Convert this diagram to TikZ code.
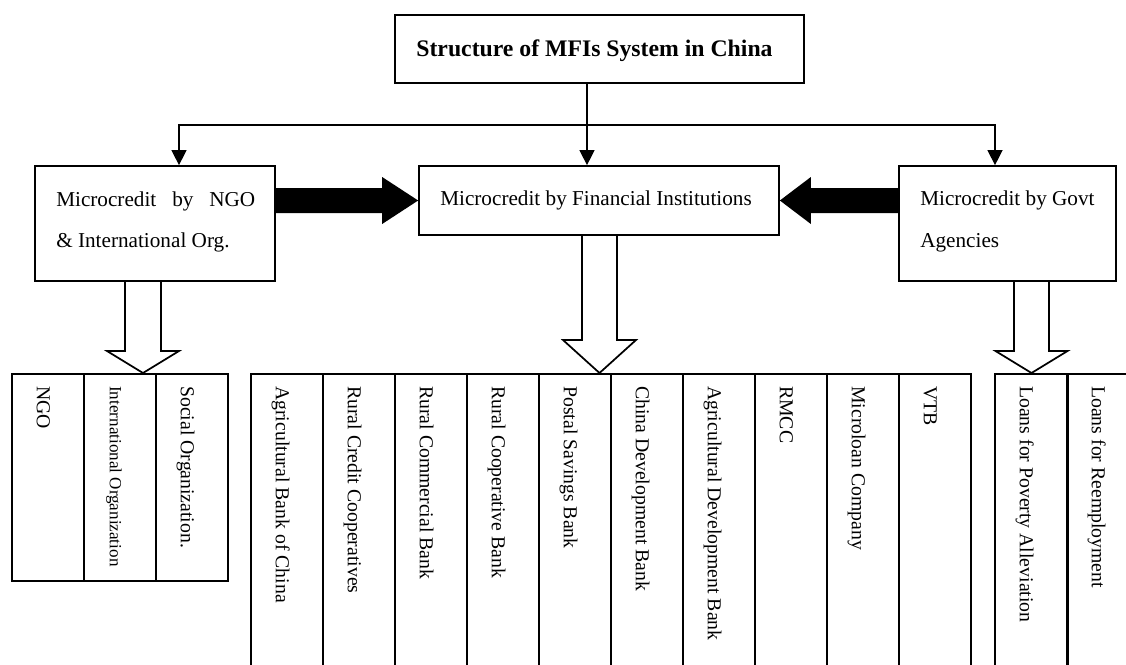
\documentclass[tikz,border=0pt]{standalone}
\usepackage{fontspec}
\setmainfont{Liberation Serif}
\usetikzlibrary{arrows.meta,calc}
\newlength\pxu
\setlength\pxu{0.75pt}
\begin{document}
\begin{tikzpicture}[x=0.75pt,y=-0.75pt,
  box/.style={draw, line width=1.3pt, rectangle, inner sep=0pt},
  conn/.style={line width=1pt},
  tiparrow/.style={-{Triangle[width=11.25pt,length=11.25pt]}},
  boxtext/.style={font=\fontsize{15.9}{19}\selectfont, inner sep=0pt, anchor=base west},
  coltext/.style={font=\fontsize{14.8}{18}\selectfont, inner sep=0pt, rotate=-90, anchor=west, text height=0.7em, text depth=0.22em},
  col/.style={box, minimum width=72\pxu},
  hollow/.style={line width=1.3pt, line join=miter},
]
\useasboundingbox (0,0) rectangle (1126,664);
\clip (0,0) rectangle (1126,664);

% title
\node[box, minimum width=409\pxu, minimum height=68\pxu] (title) at (599.5,49) {};
\node[font=\fontsize{17.8}{21}\selectfont\bfseries, inner sep=0pt, anchor=base] (titletext) at (594.5,56) {Structure of MFIs System in China};

% second level boxes
\node[box, minimum width=360\pxu, minimum height=69\pxu] (mid) at (599,200.5) {};
\node[boxtext, anchor=base] (midtext) at (596,205) {Microcredit by Financial Institutions};

\node[box, minimum width=240\pxu, minimum height=115\pxu] (ngo) at (155,223.5) {};
\node[boxtext] (ngot1) at (56,206) {\makebox[199\pxu][l]{Microcredit\hfill by\hfill NGO}};
\node[boxtext] (ngot2) at (56,247) {\& International Org.};

\node[box, minimum width=217\pxu, minimum height=115\pxu] (govt) at (1007.5,223.5) {};
\node[boxtext] (govtt1) at (920,205) {Microcredit by Govt};
\node[boxtext] (govtt2) at (920,247) {Agencies};

% tree connectors
\coordinate (jt) at (587,125);
\draw[conn] (title.south -| jt) -- (jt);
\draw[conn, tiparrow] (jt) -- (jt |- mid.north);
\draw[conn, tiparrow] (jt) -| ([xshift=24\pxu]ngo.north);
\draw[conn, tiparrow] (jt) -| ([xshift=-12.5\pxu]govt.north);

% black block arrows
\fill (mid.west) -- ++(-36,-23.5) -- ++(0,11) -- ($(ngo.east |- mid.west)+(0,-12.5)$) -- ++(0,25) -- ($(mid.west)+(-36,12.5)$) -- ++(0,11) -- cycle;
\fill (mid.east) -- ++(31,-23.5) -- ++(0,11) -- ($(govt.west |- mid.east)+(0,-12.5)$) -- ++(0,25) -- ($(mid.east)+(31,12.5)$) -- ++(0,11) -- cycle;

% hollow arrows
\coordinate (h1) at (143,281);
\coordinate (h2) at (599.5,235);
\coordinate (h3) at (1031.5,281);
\draw[hollow] (h1) ++(-18,0) -- ++(0,70) -- ++(-18,0) -- ++(36,22) -- ++(36,-22) -- ++(-18,0) -- ++(0,-70);
\draw[hollow] (h2) ++(-17.5,0) -- ++(0,105) -- ++(-19,0) -- ++(36.5,33) -- ++(36.5,-33) -- ++(-19,0) -- ++(0,-105);
\draw[hollow] (h3) ++(-17.5,0) -- ++(0,70) -- ++(-18.5,0) -- ++(36,22) -- ++(36,-22) -- ++(-18.5,0) -- ++(0,-70);

% left group
\node[col, minimum height=207\pxu] (l1) at (48,477.5) {};
\node[col, minimum height=207\pxu] (l2) at (120,477.5) {};
\node[col, minimum height=207\pxu] (l3) at (192,477.5) {};
\node[coltext] (l1t) at (40,386) {NGO};
\node[coltext, font=\fontsize{12.8}{15}\selectfont] (l2t) at (113,386) {International Organization};
\node[coltext] (l3t) at (184,386) {Social Organization.};

% middle group
\foreach \t [count=\i] in {Agricultural Bank of China, Rural Credit Cooperatives, Rural Commercial Bank, Rural Cooperative Bank, Postal Savings Bank, China Development Bank, Agricultural Development Bank, RMCC, Microloan Company, VTB}{
  \node[col, minimum height=310\pxu] (m\i) at ({215+72*\i},529) {};
  \node[coltext] (m\i t) at ({207+72*\i},386) {\t};
}

% right group
\node[col, minimum height=310\pxu] (r1) at (1031.25,529) {};
\node[col, minimum height=310\pxu] (r2) at (1103.75,529) {};
\node[coltext] (r1t) at (1023,386) {Loans for Poverty Alleviation};
\node[coltext] (r2t) at (1095,386) {Loans for Reemployment};
\end{tikzpicture}
\end{document}
